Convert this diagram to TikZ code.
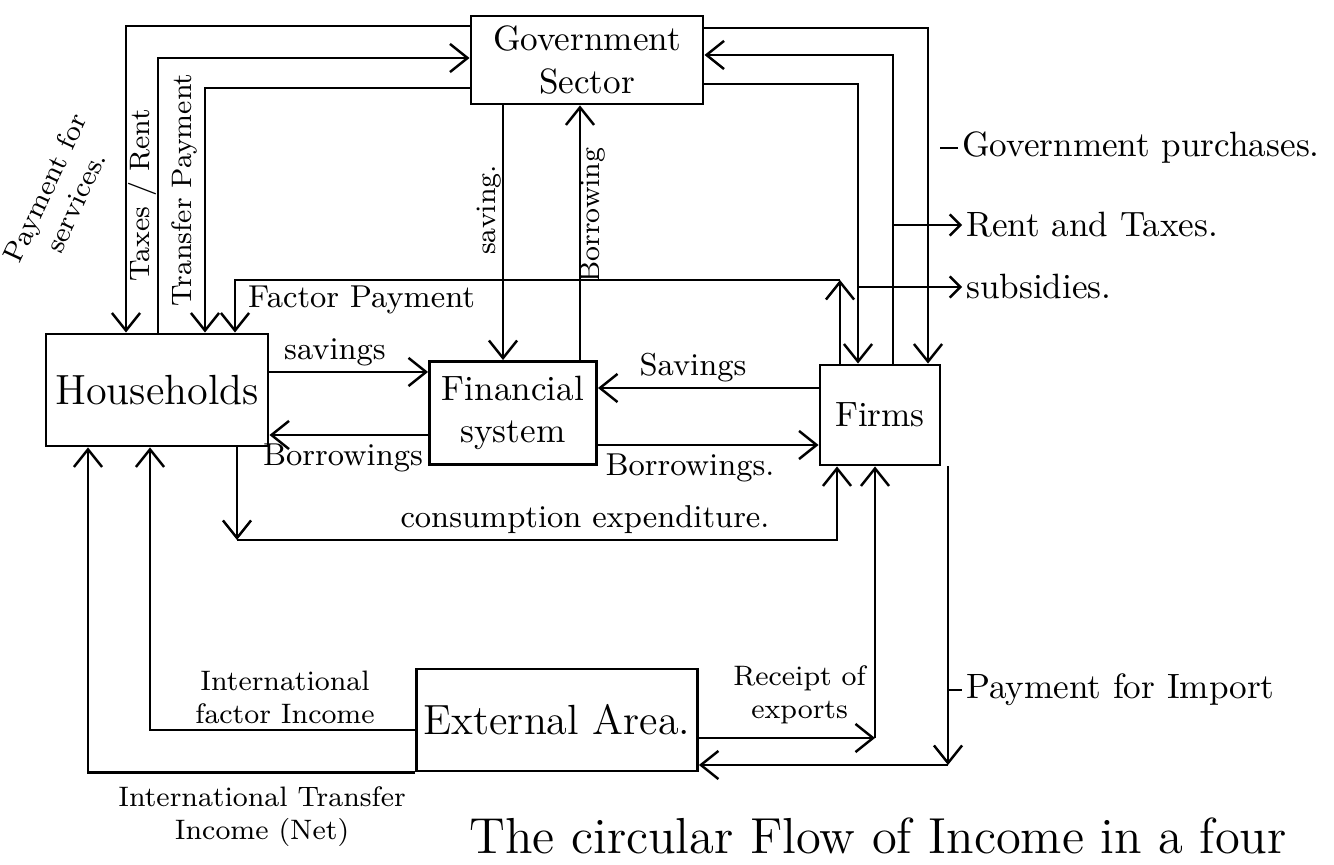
\documentclass[tikz,border=0pt]{standalone}
\usepackage{tikz}
\usetikzlibrary{positioning, arrows.meta, calc}

\tikzset{
  sector/.style={draw, line width=0.8pt, align=center, font=\normalsize, inner sep=2pt},
  flow/.style={draw, line width=0.7pt, -{Straight Barb[length=5pt, width=8pt]}},
  lead/.style={draw, line width=0.7pt, -{Straight Barb[length=3pt, width=6pt]}},
  note/.style={font=\small, inner sep=1pt, align=center},
}

\begin{document}
\begin{tikzpicture}[x=0.01cm, y=-0.01cm]
  \useasboundingbox (0,0) rectangle (1334,865);

  % sectors
  \node[sector, minimum width=2.32cm, minimum height=0.88cm] (gov) at (587,60) {Government\\Sector};
  \node[sector, minimum width=2.22cm, minimum height=1.12cm, font=\large] (house) at (157,390) {Households};
  \node[sector, minimum width=1.67cm, minimum height=1.03cm] (fin) at (513,413) {Financial\\system};
  \node[sector, minimum width=1.20cm, minimum height=1.00cm] (firms) at (880,415) {Firms};
  \node[sector, minimum width=2.65cm, minimum height=1.02cm, font=\large] (ext) at (557,720) {External Area.};

  % households and government
  \draw[flow] (gov.west |- 0,26) -| (house.north -| 126,0);
  \draw[flow] (house.north -| 158,0) |- (gov.west |- 0,58);
  \draw[flow] (gov.west |- 0,88) -| (house.north -| 205,0);
  \node[note, rotate=65, font=\footnotesize, inner sep=0pt] (pfs) at (60,195) {Payment for\\services.};
  \node[note, rotate=90, font=\footnotesize] (tr) at (142,195) {Taxes / Rent};
  \node[note, rotate=90, font=\footnotesize] (tp) at (184,190) {Transfer Payment};

  % factor payment
  \coordinate (fpc) at (840,280);
  \draw[flow] (firms.north -| fpc) -- (fpc);
  \draw[flow] (fpc) -| (house.north -| 235,0);
  \node[note, anchor=north west] (fp) at (244,282) {Factor Payment};

  % government and financial system
  \draw[flow] (gov.south -| 503,0) -- (fin.north -| 503,0);
  \draw[flow] (fin.north -| 580,0) -- (gov.south -| 580,0);
  \node[note, rotate=90, font=\footnotesize] (sv) at (489,210) {saving.};
  \node[note, rotate=90, font=\footnotesize] (bw) at (593,215) {Borrowing};

  % households and financial system
  \draw[flow] (house.east |- 0,372) -- (fin.west |- 0,372);
  \draw[flow] (fin.west |- 0,435) -- (house.east |- 0,435);
  \node[note, anchor=south] (hs) at (335,370) {savings};
  \node[note, anchor=north] (hb) at (343,440) {Borrowings};

  % firms and financial system
  \draw[flow] (firms.west |- 0,388) -- (fin.east |- 0,388);
  \draw[flow] (fin.east |- 0,445) -- (firms.west |- 0,445);
  \node[note, anchor=south] (fs) at (693,386) {Savings};
  \node[note, anchor=north] (fb) at (690,450) {Borrowings.};

  % consumption expenditure
  \coordinate (cec) at (237,540);
  \draw[flow] (house.south -| cec) -- (cec);
  \draw[flow] (cec) -| (firms.south -| 837,0);
  \node[note, anchor=south] (ce) at (585,538) {consumption expenditure.};

  % government and firms
  \draw[flow] (gov.east |- 0,28) -| (firms.north -| 928,0);
  \draw[flow] (firms.north -| 893,0) |- (gov.east |- 0,55);
  \draw[flow] (gov.east |- 0,84) -| (firms.north -| 858,0);
  \node[note, anchor=west, font=\normalsize] (gp) at (958,148) {Government purchases.};
  \node[note, anchor=west, font=\normalsize] (rt) at (962,225) {Rent and Taxes.};
  \node[note, anchor=west, font=\normalsize] (sub) at (962,287) {subsidies.};
  \draw[line width=0.7pt] (gp.west) -- ++(-18,0);
  \draw[lead] (rt.west -| 893,0) -- (rt.west);
  \draw[lead] (sub.west -| 858,0) -- (sub.west);

  % firms and external area
  \coordinate (rxc) at (875,738);
  \draw[flow] (ext.east |- rxc) -- (rxc);
  \draw[flow] (rxc) -- (firms.south -| rxc);
  \coordinate (pic) at (948,765);
  \draw[flow] (firms.south -| pic) -- (pic);
  \draw[flow] (pic) -- (ext.east |- pic);
  \node[note, font=\footnotesize, anchor=east] (rx) at (870,695) {Receipt of\\exports};
  \node[note, anchor=west, font=\normalsize] (pi) at (962,690) {Payment for Import};
  \draw[line width=0.7pt] (pi.west -| pic) -- (pi.west);

  % households and external area
  \draw[flow] (ext.west |- 0,730) -| (house.south -| 150,0);
  \draw[flow] (ext.south west) -| (house.south -| 88,0);
  \node[note, font=\footnotesize, anchor=south] (ifi) at (285,728) {International\\factor Income};
  \node[note, font=\footnotesize, anchor=north] (iti) at (262,782) {International Transfer\\Income (Net)};

  \node[font=\Large] (title) at (878,836) {The circular Flow of Income in a four};
\end{tikzpicture}
\end{document}
